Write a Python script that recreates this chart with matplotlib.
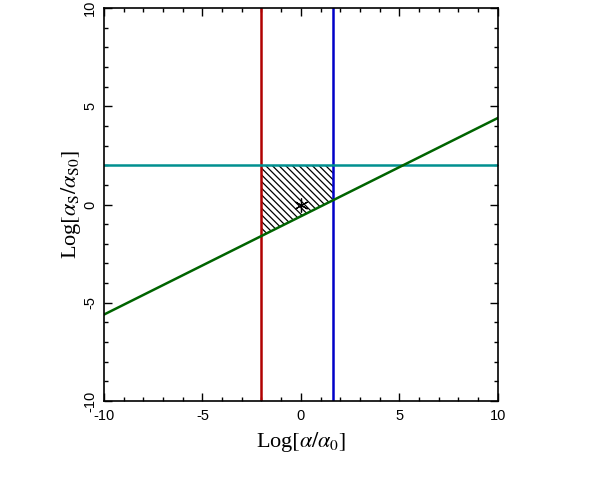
import numpy as np
import matplotlib
matplotlib.use('Agg')
import matplotlib.pyplot as plt

plt.rcParams['mathtext.fontset'] = 'stix'
plt.rcParams['hatch.linewidth'] = 0.9
plt.rcParams['axes.unicode_minus'] = False

# data
x_red = -2.0
x_blue = 1.65
y_cyan = 2.0
green_x = [-10, 10]
green_y = [-5.6, 4.4]
hatch_x = [-2.0, 1.65]
hatch_lo = [-1.6, 0.225]
hatch_hi = [2.0, 2.0]
star_x = [0.0]
star_y = [0.0]

fig = plt.figure(figsize=(5.98, 4.82), dpi=100)
ax = fig.add_axes([0.1739, 0.168, 0.6584, 0.8154])

ax.fill_between(hatch_x, hatch_lo, hatch_hi, facecolor='none', edgecolor='black',
                hatch='\\\\\\\\\\', linewidth=0)
ax.axvline(x_red, color='#b00000', lw=1.8)
ax.axvline(x_blue, color='#0000c8', lw=1.8)
ax.axhline(y_cyan, color='#009090', lw=1.8)
ax.plot(green_x, green_y, color='#006400', lw=1.8)
ax.plot(star_x, star_y, marker=(6, 2, 0), color='black', ms=10, mew=0.9, ls='none')

ax.set_xlim(-10, 10)
ax.set_ylim(-10, 10)
ax.set_xticks([-10, -5, 0, 5, 10])
ax.set_yticks([-10, -5, 0, 5, 10])
ax.set_xticks(np.arange(-10, 11, 1), minor=True)
ax.set_yticks(np.arange(-10, 11, 1), minor=True)
ax.tick_params(which='both', direction='in', top=True, right=True, width=1, color='black')
ax.tick_params(which='major', length=6)
ax.tick_params(which='minor', length=3)
ax.tick_params(axis='x', pad=6)
ax.tick_params(axis='y', pad=5)
for lab in ax.get_xticklabels() + ax.get_yticklabels():
    lab.set_family('Liberation Sans')
    lab.set_fontsize(10.5)
for lab in ax.get_yticklabels():
    lab.set_rotation(90)
    lab.set_va('center')
for s in ax.spines.values():
    s.set_linewidth(1.2)

ax.set_xlabel(r'Log$[\alpha/\alpha_0]$', family='Liberation Serif', fontsize=16, labelpad=5)
ax.set_ylabel(r'Log$[\alpha_{\rm S}/\alpha_{\rm S0}]$', family='Liberation Serif', fontsize=16, labelpad=0)

fig.savefig('out.png', dpi=100)
